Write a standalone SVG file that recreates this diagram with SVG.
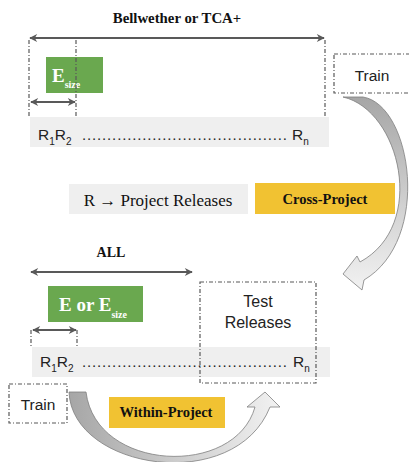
<svg xmlns="http://www.w3.org/2000/svg" width="409" height="462" viewBox="0 0 409 462">
<defs>
<style>
.dd{fill:none;stroke:#595959;stroke-width:1.2;stroke-dasharray:4 2 1 2}
.bar{fill:#efefef}
.green{fill:#6aa84f}
.yel{fill:#f1c232}
.sans{font-family:"Liberation Sans",Arial,sans-serif;fill:#222}
.serif{font-family:"Liberation Serif","Times New Roman",serif;fill:#111}
.bold{font-weight:bold}
.wt{fill:#fff}
.arr{fill:none;stroke:#595959;stroke-width:2}
.curve{stroke:#7f7f7f;stroke-width:0.8}
</style>
<marker id="ah" viewBox="0 0 10 10" refX="9" refY="5" markerWidth="10" markerHeight="8" markerUnits="userSpaceOnUse" orient="auto-start-reverse">
<path d="M0,0 L10,5 L0,10 L3,5 Z" fill="#595959"/>
</marker>
<linearGradient id="gv" x1="0" y1="0" x2="0" y2="1">
<stop offset="0" stop-color="#a6a6a6"/>
<stop offset="1" stop-color="#f2f2f2"/>
</linearGradient>
<linearGradient id="gh" x1="0" y1="0" x2="1" y2="0">
<stop offset="0" stop-color="#a6a6a6"/>
<stop offset="1" stop-color="#f2f2f2"/>
</linearGradient>
</defs>

<g id="title-top">
<text class="serif bold" x="177" y="23" font-size="14.8" text-anchor="middle">Bellwether or TCA+</text>
</g>

<g id="top-bar">
<rect class="bar" x="30" y="117" width="299" height="30"/>
<text class="sans" x="38" y="140" font-size="15.5">R<tspan font-size="10" dy="5">1</tspan><tspan dy="-5">R</tspan><tspan font-size="10" dy="5">2</tspan></text>
<text class="sans" x="82" y="140" font-size="15" textLength="205" lengthAdjust="spacing">.........................................</text>
<text class="sans" x="292" y="140" font-size="15.5">R<tspan font-size="10" dy="5">n</tspan></text>
</g>

<g id="top-esize">
<rect class="green" x="46" y="57" width="57" height="36"/>
<text class="serif bold wt" x="52" y="82" font-size="19">E<tspan font-size="10" dy="6">size</tspan></text>
</g>

<g id="train-top">
<rect class="dd" x="334" y="54" width="85" height="39"/>
<text class="sans" x="372" y="81" font-size="15.5" text-anchor="middle">Train</text>
</g>

<g id="legend">
<rect class="bar" x="69" y="184" width="179" height="30"/>
<text class="serif" x="158" y="206" font-size="17" text-anchor="middle">R → Project Releases</text>
</g>

<g id="cross-project">
<rect class="yel" x="255" y="183" width="140" height="31"/>
<text class="serif bold" x="325" y="204" font-size="14.5" text-anchor="middle">Cross-Project</text>
</g>

<g id="title-all">
<text class="serif bold" x="111" y="257" font-size="14" text-anchor="middle">ALL</text>
</g>

<g id="bottom-e">
<rect class="green" x="48" y="286" width="95" height="36"/>
<text class="serif bold wt" x="59" y="311" font-size="19">E or E<tspan font-size="10" dy="7">size</tspan></text>
</g>

<g id="bottom-bar">
<rect class="bar" x="32" y="347" width="298" height="30"/>
<text class="sans" x="40" y="367" font-size="15.5">R<tspan font-size="10" dy="5">1</tspan><tspan dy="-5">R</tspan><tspan font-size="10" dy="5">2</tspan></text>
<text class="sans" x="82" y="367" font-size="15" textLength="205" lengthAdjust="spacing">.........................................</text>
<text class="sans" x="293" y="367" font-size="15.5">R<tspan font-size="10" dy="5">n</tspan></text>
</g>

<g id="test-releases">
<rect class="dd" x="200" y="282" width="116" height="101"/>
<text class="sans" x="258" y="307" font-size="16" text-anchor="middle">Test</text>
<text class="sans" x="258" y="328" font-size="16" text-anchor="middle">Releases</text>
</g>

<g id="train-bottom">
<rect class="dd" x="9" y="384" width="58" height="39"/>
<text class="sans" x="38" y="410" font-size="15.5" text-anchor="middle">Train</text>
</g>

<g id="within-project">
<rect class="yel" x="109" y="397" width="116" height="31"/>
<text class="serif bold" x="166" y="417" font-size="14.5" text-anchor="middle">Within-Project</text>
</g>

<g id="connectors">
<line class="arr" x1="30" y1="38" x2="324" y2="38" marker-start="url(#ah)" marker-end="url(#ah)"/>
<line class="dd" x1="29" y1="40" x2="29" y2="118"/>
<line class="dd" x1="76" y1="40" x2="76" y2="118"/>
<line class="dd" x1="325" y1="40" x2="325" y2="118"/>
<line class="arr" x1="31" y1="102" x2="75" y2="102" marker-start="url(#ah)" marker-end="url(#ah)"/>
<line class="arr" x1="31" y1="272" x2="192" y2="272" marker-start="url(#ah)" marker-end="url(#ah)"/>
<line class="arr" x1="33" y1="330" x2="76" y2="330" marker-start="url(#ah)" marker-end="url(#ah)"/>
<line class="dd" x1="31" y1="330" x2="31" y2="347"/>
<line class="dd" x1="77" y1="330" x2="77" y2="347"/>
<path class="curve" fill="url(#gv)" d="M343,97 C400,110 428,225 360,262 L357,256 L343,274 L362,290 L364,280 C432,240 412,105 363,97 Z"/>
<path class="curve" fill="url(#gh)" d="M69,392 C72,470 235,495 270,407 L280,407 L265,392 L247,407 L255,407 C235,478 96,472 86,392 Z"/>
</g>
</svg>
